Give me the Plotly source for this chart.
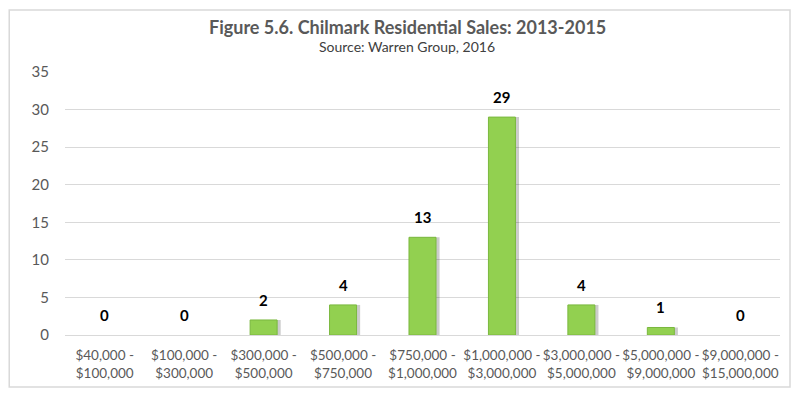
import plotly.graph_objects as go

categories = ["$40,000 -<br>$100,000", "$100,000 -<br>$300,000", "$300,000 -<br>$500,000",
              "$500,000 -<br>$750,000", "$750,000 -<br>$1,000,000", "$1,000,000 -<br>$3,000,000",
              "$3,000,000 -<br>$5,000,000", "$5,000,000 -<br>$9,000,000", "$9,000,000 -<br>$15,000,000"]
sales = [0, 0, 2, 4, 13, 29, 4, 1, 0]
y_ticks = [0, 5, 10, 15, 20, 25, 30, 35]

font_family = "Lato, Open Sans, sans-serif"
bar_w = 0.34

fig = go.Figure()
# soft shadow
fig.add_trace(go.Bar(
    x=categories, y=sales, width=bar_w, offset=-bar_w / 2 + 0.045,
    marker=dict(color="rgba(0,0,0,0.2)", line=dict(width=0)),
    hoverinfo="skip", showlegend=False,
))
fig.add_trace(go.Bar(
    x=categories, y=sales, width=bar_w, offset=-bar_w / 2,
    marker=dict(color="#92D050",
                line=dict(color="#7AB83E", width=[1 if v > 0 else 0 for v in sales])),
    showlegend=False,
))

label_annotations = [
    dict(x=c, y=v, xref="x", yref="y", text=str(v), showarrow=False,
         yanchor="middle", yshift=20,
         font=dict(family=font_family, size=15, color="#000000", weight="bold"))
    for c, v in zip(categories, sales)
]

fig.update_layout(
    width=800, height=400,
    barmode="overlay",
    paper_bgcolor="white", plot_bgcolor="white",
    margin=dict(l=57, r=28, t=64, b=73),
    annotations=[
        dict(text="<b>Figure 5.6. Chilmark Residential Sales: 2013-2015</b>",
             xref="paper", yref="paper", x=0.479, y=1 + (64 - 19) / 263,
             xanchor="center", yanchor="middle", showarrow=False,
             font=dict(family=font_family, size=18, color="#595959")),
        dict(text="Source: Warren Group, 2016",
             xref="paper", yref="paper", x=0.479, y=1 + (64 - 39) / 263,
             xanchor="center", yanchor="middle", showarrow=False,
             font=dict(family=font_family, size=14, color="#404040")),
    ] + label_annotations,
    xaxis=dict(
        showgrid=False, showline=True, linecolor="#D9D9D9", linewidth=1,
        ticks="", tickangle=0,
        tickfont=dict(family=font_family, size=13.5, color="#595959"),
        ticklabelstandoff=8,
    ),
    yaxis=dict(
        range=[0, 35], tickvals=y_ticks, showgrid=True, gridcolor="#D9D9D9",
        zeroline=False, showline=False, ticks="",
        tickfont=dict(family=font_family, size=15, color="#595959"),
        ticklabelstandoff=15,
    ),
    shapes=[dict(type="rect", xref="paper", yref="paper",
                 x0=-0.078, x1=1.014, y0=-0.198, y1=1.236,
                 line=dict(color="#D9D9D9", width=1.5), layer="below")],
)

fig.write_html("out.html")
